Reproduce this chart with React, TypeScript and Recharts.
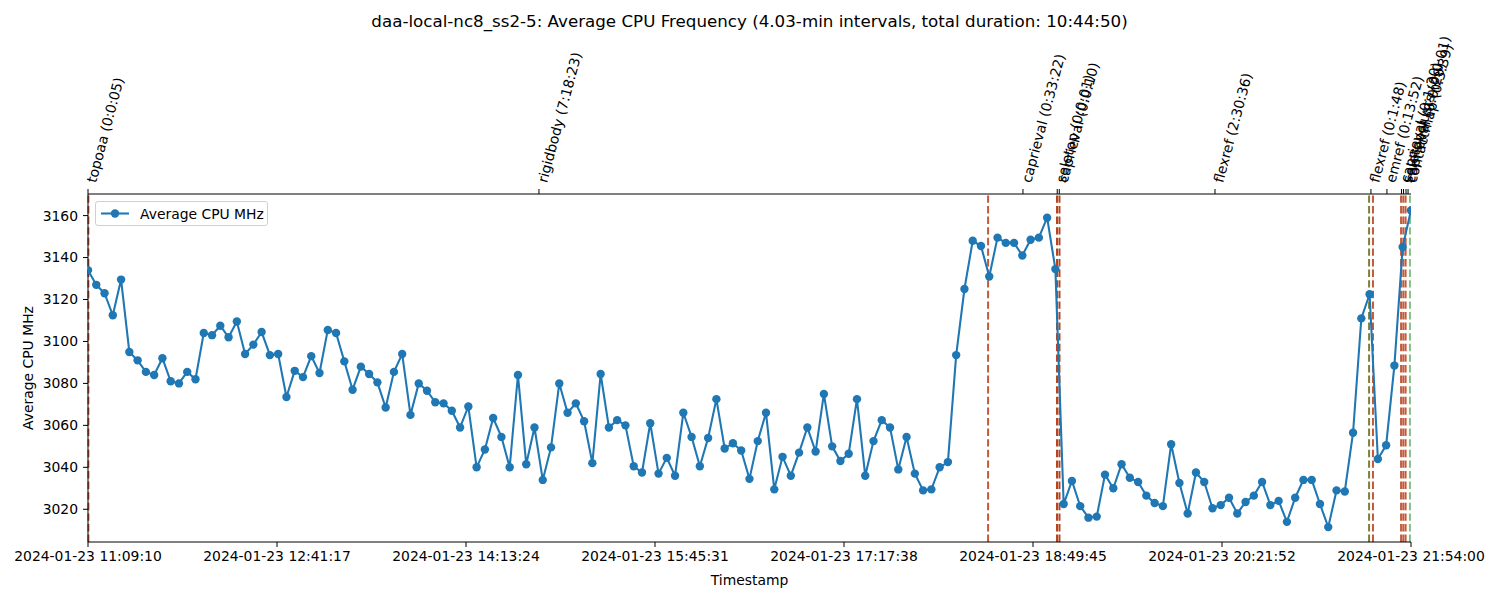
import React from 'react';
import { LineChart, Line, XAxis, YAxis, ReferenceLine, Label } from 'recharts';

const INTERVAL_MIN = 4.03;
const TOTAL_MIN = 644.833;

const cpuMhz = [
  3134, 3127, 3123, 3112.5, 3129.5, 3095, 3091, 3085.5, 3084, 3092,
  3081, 3080, 3085.5, 3082, 3104, 3103, 3107.5, 3102, 3109.5, 3094,
  3098.5, 3104.5, 3093.5, 3094, 3073.5, 3086, 3083, 3093, 3085, 3105.5,
  3104, 3090.5, 3077, 3088, 3084.5, 3080.5, 3068.5, 3085.5, 3094, 3065,
  3080, 3076.5, 3071, 3070.5, 3067, 3059, 3069, 3040, 3048.5, 3063.5,
  3054.5, 3040, 3084, 3041.5, 3059, 3034, 3049.5, 3080, 3066, 3070.5,
  3062, 3042, 3084.5, 3059, 3062.5, 3060, 3040.5, 3037.5, 3061, 3037,
  3044.5, 3036, 3066, 3054.5, 3040.5, 3054, 3072.5, 3049, 3051.5, 3048,
  3034.5, 3052.5, 3066, 3029.5, 3045, 3036, 3047, 3059, 3047.5, 3075,
  3050, 3043, 3046.5, 3072.5, 3036, 3052.5, 3062.5, 3059, 3039, 3054.5,
  3037, 3029, 3029.5, 3040, 3042.5, 3093.5, 3125, 3148, 3145.5, 3131,
  3149.5, 3147, 3147, 3141, 3148.5, 3149.5, 3159, 3134.5, 3022.5, 3033.5,
  3021.5, 3016, 3016.5, 3036.5, 3030, 3041.5, 3035, 3033, 3026.5, 3023,
  3021.5, 3051, 3032.5, 3018, 3037.5, 3033, 3020.5, 3022, 3025.5, 3018,
  3023.5, 3026.5, 3033, 3022, 3024, 3014, 3025.5, 3034, 3034, 3022.5,
  3011.5, 3029, 3028.5, 3056.5, 3111, 3122.5, 3044, 3050.5, 3088.5, 3145,
  3162.5,
];

const timeTickLabels = [
  '2024-01-23 11:09:10',
  '2024-01-23 12:41:17',
  '2024-01-23 14:13:24',
  '2024-01-23 15:45:31',
  '2024-01-23 17:17:38',
  '2024-01-23 18:49:45',
  '2024-01-23 20:21:52',
  '2024-01-23 21:54:00',
];

const mhzTicks = [3020, 3040, 3060, 3080, 3100, 3120, 3140, 3160];

// step names shown above the plot, at the middle of each step (minutes from start)
const stepLabels = [
  'topoaa (0:0:05)',
  'rigidbody (7:18:23)',
  'caprieval (0:33:22)',
  'seletop (0:0:01)',
  'caprieval (0:0:10)',
  'flexref (2:30:36)',
  'flexref (0:1:48)',
  'emref (0:13:52)',
  'caprieval (0:1:20)',
  'seletopclusts (0:0:01)',
  'caprieval (0:0:20)',
  'contactmap (0:3:39)',
];
const stepMidMin = [0, 219.8, 455.7, 472.4, 473.4, 549.3, 625.3, 633.1, 640.2, 641.2, 642.4, 643.4];

// dashed step boundaries
const boundaryMin = [0.2, 438.7, 472.3, 473.5, 624.4, 626.3, 640.0, 641.1, 642.2, 644.3];
const boundaryColors = [
  '#c55a3a', '#c55a3a', '#b5451f', '#b5451f', '#7f7f3a',
  '#c55a3a', '#c55a3a', '#c55a3a', '#c55a3a', '#80c080',
];

const data = cpuMhz.map((mhz, i) => ({ t: i * INTERVAL_MIN, mhz }));
const timeTicks = timeTickLabels.map((_, k) => (k * TOTAL_MIN) / (timeTickLabels.length - 1));

const FONT = 'DejaVu Sans, sans-serif';
const BLUE = '#1f77b4';

const StepTick = (props: any) => {
  const { x, y, payload } = props;
  const idx = stepMidMin.indexOf(payload.value);
  const px = x + 8;
  const py = y - 5.5;
  return (
    <text x={px} y={py} transform={`rotate(-75, ${px}, ${py})`} fontSize={13.9} fill="#000" fontFamily={FONT}>
      {stepLabels[idx]}
    </text>
  );
};

const YTitle = (props: any) => {
  const vb = props.viewBox || { y: 194, height: 348 };
  const cx = 28;
  const cy = vb.y + vb.height / 2;
  return (
    <text x={cx} y={cy} transform={`rotate(-90, ${cx}, ${cy})`} textAnchor="middle" dominantBaseline="central" fontSize={13.9} fill="#000" fontFamily={FONT}>
      Average CPU MHz
    </text>
  );
};

export default function App() {
  return (
    <div style={{ position: 'absolute', left: 0, top: 0, width: 1500, height: 600, background: '#fff', fontFamily: FONT }}>
      <div style={{ position: 'absolute', left: 0, width: 1499, top: 11, textAlign: 'center', fontSize: 16.7, color: '#000' }}>
        daa-local-nc8_ss2-5: Average CPU Frequency (4.03-min intervals, total duration: 10:44:50)
      </div>
      <LineChart width={1500} height={600} data={data} margin={{ top: 0, right: 89, bottom: 0, left: 0 }}>
        <XAxis
          xAxisId="bottom"
          dataKey="t"
          type="number"
          domain={[0, TOTAL_MIN]}
          allowDataOverflow
          ticks={timeTicks}
          interval={0}
          tickFormatter={(_v: number, i: number) => timeTickLabels[i]}
          height={58}
          tickSize={5}
          tickMargin={4}
          stroke="#000"
          tick={{ fill: '#000', fontSize: 13.9, fontFamily: FONT }}
        >
          <Label value="Timestamp" position="insideBottom" offset={15} fill="#000" fontSize={13.9} fontFamily={FONT} />
        </XAxis>
        <XAxis
          xAxisId="top"
          orientation="top"
          dataKey="t"
          type="number"
          domain={[0, TOTAL_MIN]}
          allowDataOverflow
          ticks={stepMidMin}
          interval={0}
          height={194}
          tickSize={5}
          tickMargin={0}
          stroke="#000"
          tick={<StepTick />}
        />
        <YAxis
          yAxisId="mhz"
          type="number"
          domain={[3004.4, 3170.3]}
          allowDataOverflow
          ticks={mhzTicks}
          interval={0}
          width={88}
          tickSize={5}
          tickMargin={5}
          stroke="#000"
          tick={{ fill: '#000', fontSize: 13.9, fontFamily: FONT }}
        >
          <Label content={<YTitle />} />
        </YAxis>
        <YAxis
          yAxisId="frame"
          orientation="right"
          type="number"
          domain={[3004.4, 3170.3]}
          allowDataOverflow
          width={0}
          tick={false}
          tickLine={false}
          stroke="#000"
        />
        {boundaryMin.map((m, i) => (
          <ReferenceLine
            key={i}
            xAxisId="bottom"
            yAxisId="mhz"
            x={m}
            stroke={boundaryColors[i]}
            strokeWidth={2}
            strokeDasharray="7.4 3.2"
          />
        ))}
        <Line
          xAxisId="bottom"
          yAxisId="mhz"
          dataKey="mhz"
          stroke={BLUE}
          strokeWidth={2.08}
          dot={{ r: 4.2, fill: BLUE, stroke: 'none' }}
          activeDot={false}
          isAnimationActive={false}
        />
      </LineChart>
      <div
        style={{
          position: 'absolute', left: 95, top: 201, width: 171, height: 23,
          border: '1px solid #d0d0d0', borderRadius: 3, background: 'rgba(255,255,255,0.8)',
          display: 'flex', alignItems: 'center', fontSize: 13.9, color: '#000',
        }}
      >
        <svg width={44} height={23} style={{ flex: 'none' }}>
          <line x1={5} y1={11.5} x2={33} y2={11.5} stroke={BLUE} strokeWidth={2.08} />
          <circle cx={19} cy={11.5} r={4.2} fill={BLUE} />
        </svg>
        <span style={{ whiteSpace: 'nowrap' }}>Average CPU MHz</span>
      </div>
    </div>
  );
}
